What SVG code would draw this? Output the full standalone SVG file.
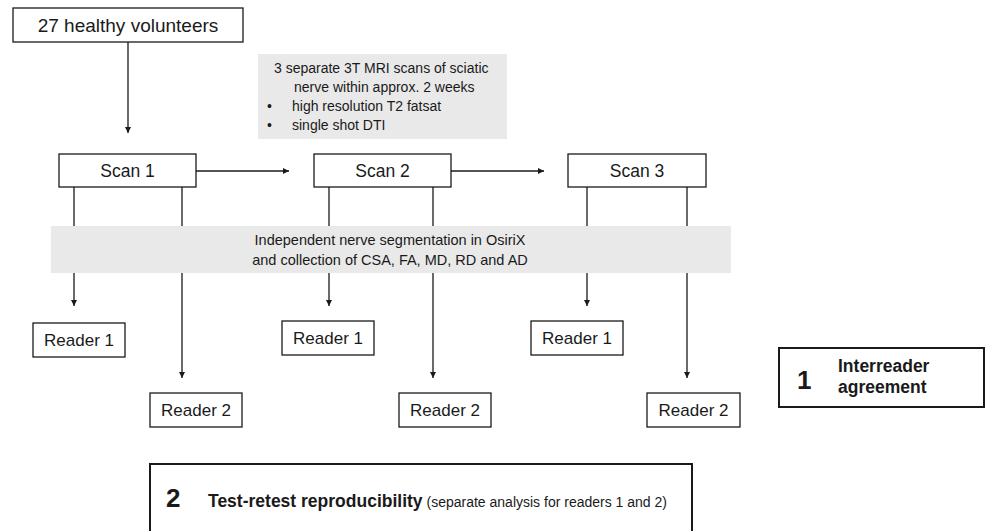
<svg xmlns="http://www.w3.org/2000/svg" width="986" height="531" viewBox="0 0 986 531">
<defs>
<marker id="ah" viewBox="0 0 10 10" refX="10" refY="5" markerWidth="6" markerHeight="6" markerUnits="userSpaceOnUse" orient="auto">
<path d="M0,0 L10,5 L0,10 z" fill="#1a1a1a"/>
</marker>
</defs>
<style>
text{font-family:"Liberation Sans",Arial,sans-serif;fill:#1a1a1a}
.box{fill:#fff;stroke:#1a1a1a;stroke-width:1.3}
.thick{fill:#fff;stroke:#1a1a1a;stroke-width:2}
.gray{fill:#e9e9e9}
.ln{stroke:#1a1a1a;stroke-width:1.3;fill:none}
.arr{stroke:#1a1a1a;stroke-width:1.3;fill:none;marker-end:url(#ah)}
.scan{font-size:17.5px}
.rd{font-size:17px}
.info{font-size:14px}
.band{font-size:14.5px}
.big{font-size:26px;font-weight:bold}
.bt{font-size:17.5px;font-weight:bold}
</style>
<rect width="986" height="531" fill="#fff"/>
<g id="info">
<rect class="gray" x="258" y="54" width="249" height="85"/>
<text class="info" x="274" y="73">3 separate 3T MRI scans of sciatic</text>
<text class="info" x="294" y="92">nerve within approx. 2 weeks</text>
<text class="info" x="267" y="111">•</text>
<text class="info" x="292" y="111">high resolution T2 fatsat</text>
<text class="info" x="267" y="130">•</text>
<text class="info" x="292" y="130">single shot DTI</text>
</g>
<g id="band">
<rect class="gray" x="51" y="226" width="680" height="47"/>
<text class="band" x="390" y="245" text-anchor="middle">Independent nerve segmentation in OsiriX</text>
<text class="band" x="390" y="265" text-anchor="middle">and collection of CSA, FA, MD, RD and AD</text>
</g>
<g id="connectors">
<line class="arr" x1="128" y1="42" x2="128" y2="133"/>
<line class="arr" x1="196" y1="171" x2="289" y2="171"/>
<line class="arr" x1="451" y1="171" x2="544" y2="171"/>
<line class="ln" x1="74" y1="187" x2="74" y2="226"/>
<line class="ln" x1="182" y1="187" x2="182" y2="226"/>
<line class="ln" x1="329" y1="187" x2="329" y2="226"/>
<line class="ln" x1="433" y1="187" x2="433" y2="226"/>
<line class="ln" x1="587" y1="187" x2="587" y2="226"/>
<line class="ln" x1="687" y1="187" x2="687" y2="226"/>
<line class="arr" x1="74" y1="273" x2="74" y2="306"/>
<line class="arr" x1="182" y1="273" x2="182" y2="378"/>
<line class="arr" x1="329" y1="273" x2="329" y2="306"/>
<line class="arr" x1="433" y1="273" x2="433" y2="378"/>
<line class="arr" x1="587" y1="273" x2="587" y2="306"/>
<line class="arr" x1="687" y1="273" x2="687" y2="378"/>
</g>
<g id="volunteers">
<rect class="box" x="13" y="8" width="230" height="34"/>
<text x="128" y="32" font-size="19" text-anchor="middle">27 healthy volunteers</text>
</g>
<g id="scan1">
<rect class="box" x="59" y="154" width="137" height="33"/>
<text class="scan" x="127.5" y="177" text-anchor="middle">Scan 1</text>
</g>
<g id="scan2">
<rect class="box" x="314" y="154" width="137" height="33"/>
<text class="scan" x="382.5" y="177" text-anchor="middle">Scan 2</text>
</g>
<g id="scan3">
<rect class="box" x="568" y="154" width="138" height="33"/>
<text class="scan" x="637" y="177" text-anchor="middle">Scan 3</text>
</g>
<g id="s1r1">
<rect class="box" x="33" y="323" width="92" height="34"/>
<text class="rd" x="79" y="346" text-anchor="middle">Reader 1</text>
</g>
<g id="s1r2">
<rect class="box" x="150" y="393" width="92" height="34"/>
<text class="rd" x="196" y="416" text-anchor="middle">Reader 2</text>
</g>
<g id="s2r1">
<rect class="box" x="282" y="321" width="92" height="34"/>
<text class="rd" x="328" y="344" text-anchor="middle">Reader 1</text>
</g>
<g id="s2r2">
<rect class="box" x="399" y="393" width="92" height="34"/>
<text class="rd" x="445" y="416" text-anchor="middle">Reader 2</text>
</g>
<g id="s3r1">
<rect class="box" x="531" y="321" width="92" height="34"/>
<text class="rd" x="577" y="344" text-anchor="middle">Reader 1</text>
</g>
<g id="s3r2">
<rect class="box" x="647" y="393" width="93" height="34"/>
<text class="rd" x="693.5" y="416" text-anchor="middle">Reader 2</text>
</g>
<g id="interreader">
<rect class="thick" x="779" y="348" width="205" height="59"/>
<text class="big" x="797" y="389">1</text>
<text class="bt" x="838" y="372">Interreader</text>
<text class="bt" x="838" y="393">agreement</text>
</g>
<g id="testretest">
<rect class="thick" x="150" y="464" width="542" height="80"/>
<text class="big" x="166" y="507">2</text>
<text x="208" y="507"><tspan class="bt">Test-retest reproducibility</tspan><tspan font-size="14"> (separate analysis for readers 1 and 2)</tspan></text>
</g>
</svg>
